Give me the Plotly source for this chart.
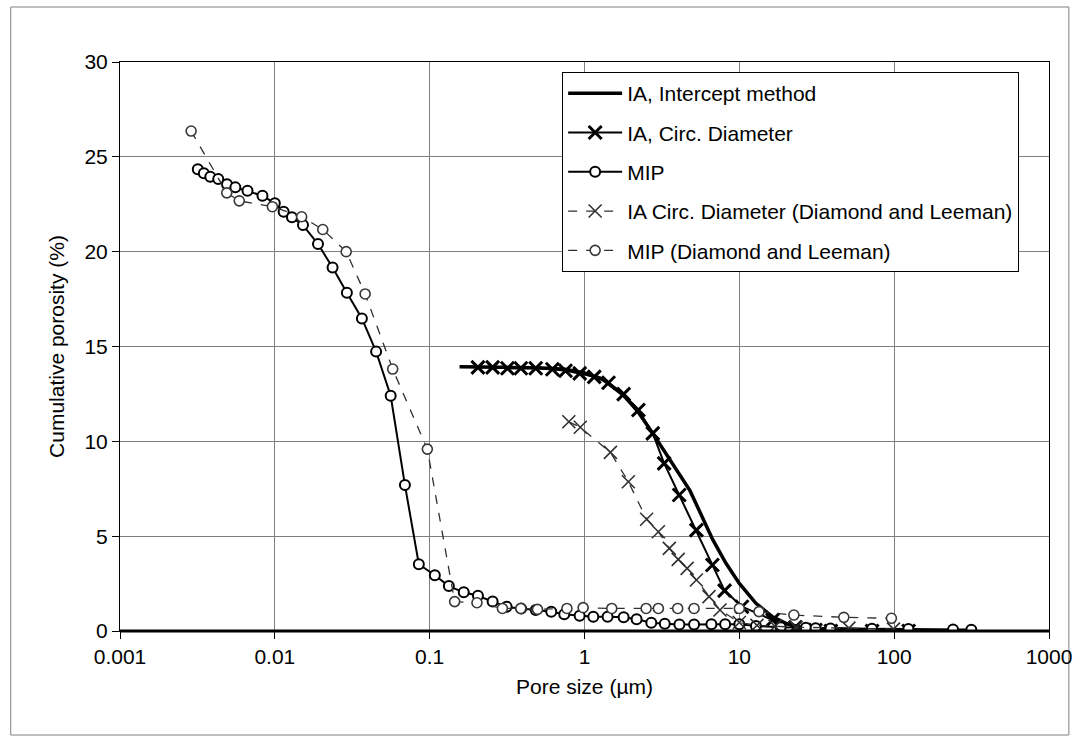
import plotly.graph_objects as go

# ---------------- data ----------------
ia_int_x = [0.156, 0.2, 0.3, 0.5, 0.75, 1.0, 1.3, 1.78, 2.2, 2.77, 3.6, 4.8, 6.0, 6.75, 8.2, 10, 12.8, 16.4, 20, 25, 35, 60, 100, 300]
ia_int_y = [13.93, 13.93, 13.9, 13.88, 13.8, 13.6, 13.3, 12.44, 11.6, 10.4, 9.0, 7.4, 5.7, 4.8, 3.57, 2.51, 1.46, 0.75, 0.4, 0.2, 0.1, 0.05, 0.03, 0.02]

ia_circ_x = [0.205, 0.255, 0.318, 0.388, 0.484, 0.62, 0.754, 0.931, 1.156, 1.43, 1.79, 2.23, 2.76, 3.27, 4.09, 5.28, 6.7, 8.03, 10.4, 16.4, 23, 31, 39, 72, 124]
ia_circ_y = [13.9, 13.9, 13.85, 13.85, 13.85, 13.8, 13.72, 13.58, 13.4, 13.09, 12.49, 11.65, 10.42, 8.84, 7.17, 5.32, 3.48, 2.13, 1.28, 0.58, 0.2, 0.05, 0.0, 0.0, 0.0]

mip_x = [0.00318, 0.00348, 0.00383, 0.00431, 0.00491, 0.00556, 0.00666, 0.00832, 0.0100, 0.0114, 0.0129, 0.0152, 0.0190, 0.0236, 0.0292, 0.0365, 0.0451, 0.0560, 0.0692, 0.0851, 0.108, 0.133, 0.166, 0.205, 0.255, 0.314, 0.39, 0.484, 0.61, 0.74, 0.93, 1.14, 1.41, 1.79, 2.17, 2.70, 3.3, 4.1, 5.1, 6.6, 8.1, 10.0, 12.8, 18.5, 26.9, 31.1, 38.8, 71.9, 123.6, 240, 315]
mip_y = [24.34, 24.13, 23.95, 23.83, 23.56, 23.39, 23.21, 22.95, 22.55, 22.1, 21.81, 21.4, 20.4, 19.17, 17.83, 16.48, 14.73, 12.40, 7.7, 3.52, 2.94, 2.37, 2.04, 1.86, 1.55, 1.28, 1.18, 1.11, 1.02, 0.88, 0.81, 0.75, 0.75, 0.72, 0.62, 0.44, 0.38, 0.34, 0.34, 0.36, 0.35, 0.35, 0.26, 0.2, 0.17, 0.15, 0.13, 0.12, 0.1, 0.08, 0.07]

dl_ia_x = [0.792, 0.94, 1.47, 1.92, 2.52, 3.0, 3.53, 4.03, 4.6, 5.28, 6.37, 7.5, 10, 13, 17, 23.2, 51, 99]
dl_ia_y = [11.03, 10.74, 9.42, 7.87, 5.89, 5.23, 4.36, 3.78, 3.3, 2.69, 1.81, 1.11, 0.45, 0.3, 0.25, 0.2, 0.15, 0.1]

dl_mip_x = [0.00288, 0.00489, 0.00589, 0.00964, 0.0149, 0.0204, 0.0289, 0.0383, 0.0577, 0.0966, 0.145, 0.202, 0.295, 0.388, 0.497, 0.77, 0.98, 1.5, 2.5, 3.0, 4.0, 5.1, 10, 13.4, 22.5, 47.3, 96]
dl_mip_y = [26.36, 23.1, 22.68, 22.37, 21.84, 21.17, 20.0, 17.77, 13.81, 9.59, 1.55, 1.49, 1.19, 1.19, 1.14, 1.19, 1.23, 1.19, 1.19, 1.19, 1.19, 1.19, 1.19, 1.02, 0.84, 0.72, 0.67]

x_tick_vals = [0.001, 0.01, 0.1, 1, 10, 100, 1000]
x_tick_text = ["0.001", "0.01", "0.1", "1", "10", "100", "1000"]
y_tick_vals = [0, 5, 10, 15, 20, 25, 30]

names = ["IA, Intercept method", "IA, Circ. Diameter", "MIP",
         "IA Circ. Diameter (Diamond and Leeman)", "MIP (Diamond and Leeman)"]

FONT = "Liberation Sans, Arial, sans-serif"
FS = 21

fig = go.Figure()

fig.add_trace(go.Scatter(x=ia_int_x, y=ia_int_y, name=names[0], legendgroup="g0", mode="lines",
                         line=dict(color="black", width=3.5)))
fig.add_trace(go.Scatter(x=ia_circ_x, y=ia_circ_y, name=names[1], legendgroup="g1", mode="lines+markers",
                         line=dict(color="black", width=2),
                         marker=dict(symbol="x-thin", size=13, line=dict(color="black", width=3))))
fig.add_trace(go.Scatter(x=mip_x, y=mip_y, name=names[2], legendgroup="g2", mode="lines+markers",
                         line=dict(color="black", width=2),
                         marker=dict(symbol="circle", size=10, color="white",
                                     line=dict(color="black", width=2))))
fig.add_trace(go.Scatter(x=dl_ia_x, y=dl_ia_y, name=names[3], legendgroup="g3", mode="lines+markers",
                         line=dict(color="#303030", width=1.3, dash="dash"),
                         marker=dict(symbol="x-thin", size=13, line=dict(color="#303030", width=1.6))))
fig.add_trace(go.Scatter(x=dl_mip_x, y=dl_mip_y, name=names[4], legendgroup="g4", mode="lines+markers",
                         line=dict(color="#303030", width=1.3, dash="dash"),
                         marker=dict(symbol="circle", size=10, color="white",
                                     line=dict(color="#383838", width=1.6))))

# plot-area pixel geometry: x 120..1055, y 62..631
def px_x(p):
    return (p - 120) / 935.0

def px_y(p):
    return (631 - p) / 569.0

fig.update_layout(
    width=1084, height=746,
    margin=dict(l=120, r=29, t=62, b=115),
    paper_bgcolor="white", plot_bgcolor="white",
    font=dict(family=FONT, size=FS, color="black"),
    showlegend=True,
    legend=dict(x=px_x(565), y=px_y(72), xanchor="left", yanchor="top",
                bgcolor="white", bordercolor="black", borderwidth=1,
                font=dict(family=FONT, size=FS, color="black"),
                itemwidth=54, tracegroupgap=9, traceorder="grouped"),
    xaxis=dict(type="log", range=[-3, 3], tickvals=x_tick_vals, ticktext=x_tick_text,
               showgrid=True, gridcolor="#808080", gridwidth=1,
               showline=True, linecolor="black", linewidth=1, mirror=True,
               ticks="outside", ticklen=7, tickcolor="black",
               zeroline=False,
               title=dict(text="Pore size (µm)", standoff=12, font=dict(size=FS))),
    yaxis=dict(range=[0, 30], tickvals=y_tick_vals,
               showgrid=True, gridcolor="#808080", gridwidth=1,
               showline=True, linecolor="black", linewidth=1, mirror=True,
               ticks="outside", ticklen=7, tickcolor="black",
               ticklabelstandoff=0,
               zeroline=False,
               title=dict(text="Cumulative porosity (%)", standoff=14, font=dict(size=FS))),
    shapes=[
        dict(type="rect", xref="paper", yref="paper",
             x0=px_x(10), x1=px_x(1075), y0=px_y(735), y1=px_y(7),
             line=dict(color="#808080", width=1), fillcolor="rgba(0,0,0,0)", layer="below"),
        dict(type="line", xref="paper", yref="paper", x0=0, x1=1, y0=0, y1=0,
             line=dict(color="black", width=3), layer="above"),
    ],
)

fig.write_html("out.html")
